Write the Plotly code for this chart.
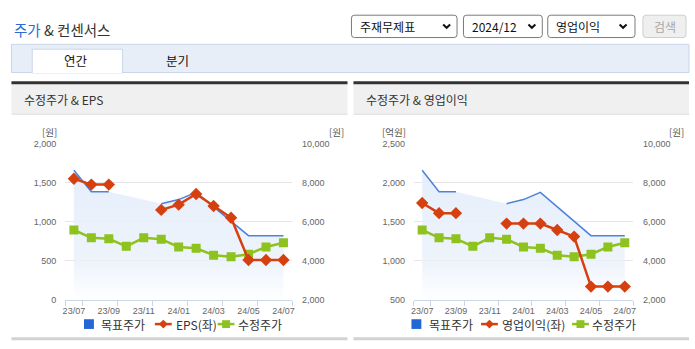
import plotly.graph_objects as go

# ---- data -------------------------------------------------------------
months = ["23/07", "23/08", "23/09", "23/10", "23/11", "23/12",
          "24/01", "24/02", "24/03", "24/04", "24/05", "24/06", "24/07"]
target_price = [8630, 7530, 7530, None, None, 6920, 7130, 7500, 6770, 6030, 5280, 5280, 5280]
adj_price = [5570, 5170, 5120, 4730, 5170, 5100, 4700, 4630, 4280, 4200, 4330, 4700, 4920]
eps = [1550, 1475, 1475, None, None, 1150, 1217, 1354, 1200, 1050, 508, 508, 508]
op_income = [1738, 1608, 1608, None, None, 1475, 1475, 1475, 1392, 1308, 667, 667, 667]

price_ticks = [2000, 4000, 6000, 8000, 10000]
eps_ticks = [0, 500, 1000, 1500, 2000]
op_ticks = [500, 1000, 1500, 2000, 2500]

# ---- page geometry helpers (pixels -> paper) -------------------------
W, H = 695, 349


def fx(p):
    return p / W


def fy(p):
    return 1 - p / H


def rrect(x0, y0, x1, y1, r):
    pts = [
        ("M", x0 + r, y0), ("L", x1 - r, y0), ("Q", x1, y0, x1, y0 + r),
        ("L", x1, y1 - r), ("Q", x1, y1, x1 - r, y1), ("L", x0 + r, y1),
        ("Q", x0, y1, x0, y1 - r), ("L", x0, y0 + r), ("Q", x0, y0, x0 + r, y0),
    ]
    out = []
    for p in pts:
        coords = p[1:]
        s = [f"{fx(coords[i]):.5f},{fy(coords[i + 1]):.5f}" for i in range(0, len(coords), 2)]
        out.append(p[0] + " " + " ".join(s))
    return " ".join(out) + " Z"


KFONT = "Noto Sans CJK KR"
TFONT = "Liberation Sans, Arial, sans-serif"
TICK_COLOR = "#666666"
AXIS_LINE = "#ccd6eb"
GRID = "#e6e6e6"
BLUE_LINE = "#4c82dc"
BLUE_LEG = "#2366d6"
RED = "#d6400e"
GREEN = "#8dc21f"

xi = list(range(len(months)))
boundaries = [-0.5, 0.5, 2.5, 4.5, 6.5, 8.5, 10.5, 12.5]

fig = go.Figure()

panels = [
    dict(xa="x", ya="y", yb="y2", name="EPS(좌)", vals=eps, ticks=eps_ticks,
         x0=62.7, x1=291.7,
         leg=dict(sq=86.7, t1=96.7, red=161.7, t2=172, grn=225, t3=235.5)),
    dict(xa="x2", ya="y3", yb="y4", name="영업이익(좌)", vals=op_income, ticks=op_ticks,
         x0=414.3, x1=635.7,
         leg=dict(sq=417, t1=428, red=490.7, t2=501, grn=582.5, t3=592.5)),
]
PY0, PY1 = 142.7, 303.3

shapes = []
ann = []
layout_axes = {}
for p in panels:
    # target price area with vertical gradient
    fig.add_trace(go.Scatter(
        x=xi, y=target_price, xaxis=p["xa"], yaxis=p["ya"], mode="lines",
        line=dict(color=BLUE_LINE, width=1.5), connectgaps=False,
        fill="tozeroy",
        fillgradient=dict(type="vertical", start=2000, stop=8700,
                          colorscale=[[0, "rgba(238,244,252,0)"],
                                      [0.3, "rgba(234,241,251,0.8)"],
                                      [1, "rgba(229,238,251,1)"]]),
        name="목표주가", showlegend=False, hoverinfo="skip"))
    # adjusted price
    fig.add_trace(go.Scatter(
        x=xi, y=adj_price, xaxis=p["xa"], yaxis=p["ya"], mode="lines+markers",
        line=dict(color=GREEN, width=2.5),
        marker=dict(symbol="square", size=9, color=GREEN),
        name="수정주가", showlegend=False))
    # EPS / operating income on the left scale
    fig.add_trace(go.Scatter(
        x=xi, y=p["vals"], xaxis=p["xa"], yaxis=p["yb"], mode="lines+markers",
        line=dict(color=RED, width=2.5), connectgaps=False,
        marker=dict(symbol="diamond", size=9.5, color=RED),
        name=p["name"], showlegend=False))

    xkey = "xaxis" if p["xa"] == "x" else "xaxis2"
    yakey = "yaxis" if p["ya"] == "y" else "yaxis" + p["ya"][1:]
    ybkey = "yaxis" + p["yb"][1:]
    layout_axes[xkey] = dict(
        domain=[fx(p["x0"]), fx(p["x1"])], range=[-0.5, 12.5], anchor=p["ya"],
        tickmode="array", tickvals=xi[::2], ticktext=months[::2],
        ticks="outside", ticklen=3, tickcolor="rgba(0,0,0,0)",
        showgrid=False, zeroline=False, showline=True, linecolor=AXIS_LINE, linewidth=1,
        tickfont=dict(family=TFONT, size=9, color=TICK_COLOR),
        minor=dict(tickmode="array", tickvals=boundaries, ticks="outside",
                   ticklen=5, tickcolor=AXIS_LINE, showgrid=False),
        fixedrange=True)
    layout_axes[yakey] = dict(
        domain=[fy(PY1), fy(PY0)], range=[2000, 10000], anchor=p["xa"], side="right",
        tickmode="array", tickvals=price_ticks, tickformat=",d",
        ticks="outside", ticklen=7, tickcolor="rgba(0,0,0,0)",
        showgrid=True, gridcolor=GRID, zeroline=False, showline=False,
        tickfont=dict(family=TFONT, size=9, color=TICK_COLOR), fixedrange=True)
    layout_axes[ybkey] = dict(
        overlaying=p["ya"], range=[p["ticks"][0], p["ticks"][-1]], anchor=p["xa"], side="left",
        tickmode="array", tickvals=p["ticks"], tickformat=",d",
        ticks="outside", ticklen=6, tickcolor="rgba(0,0,0,0)",
        showgrid=False, zeroline=False, showline=False,
        tickfont=dict(family=TFONT, size=9, color=TICK_COLOR), fixedrange=True)

    # legend row under each chart
    lg = p["leg"]
    ly = 328.5
    shapes.append(dict(type="rect", xref="paper", yref="paper",
                       x0=fx(lg["sq"] - 5), x1=fx(lg["sq"] + 5), y0=fy(ly + 5), y1=fy(ly - 5),
                       line=dict(width=0), fillcolor=BLUE_LEG))
    shapes.append(dict(type="line", xref="paper", yref="paper",
                       x0=fx(lg["red"] - 8.5), x1=fx(lg["red"] + 8.5), y0=fy(ly), y1=fy(ly),
                       line=dict(color=RED, width=2.5)))
    shapes.append(dict(type="path", xref="paper", yref="paper",
                       path=(f"M {fx(lg['red'])},{fy(ly - 4.5)} L {fx(lg['red'] + 4.5)},{fy(ly)} "
                             f"L {fx(lg['red'])},{fy(ly + 4.5)} L {fx(lg['red'] - 4.5)},{fy(ly)} Z"),
                       line=dict(width=0), fillcolor=RED))
    shapes.append(dict(type="line", xref="paper", yref="paper",
                       x0=fx(lg["grn"] - 8.5), x1=fx(lg["grn"] + 8.5), y0=fy(ly), y1=fy(ly),
                       line=dict(color=GREEN, width=2.5)))
    shapes.append(dict(type="rect", xref="paper", yref="paper",
                       x0=fx(lg["grn"] - 4), x1=fx(lg["grn"] + 4), y0=fy(ly + 4), y1=fy(ly - 4),
                       line=dict(width=0), fillcolor=GREEN))
    for tx, label in [(lg["t1"], "목표주가"), (lg["t2"], p["name"]), (lg["t3"], "수정주가")]:
        ann.append(dict(x=fx(tx), y=fy(ly), xref="paper", yref="paper", xanchor="left", yanchor="middle",
                        text=label, showarrow=False, font=dict(family=KFONT, size=12, color="#333333")))

fig.update_layout(**layout_axes)

# title + controls
ann.append(dict(x=fx(9), y=fy(25), xref="paper", yref="paper", xanchor="left", yanchor="middle",
                text="<span style='color:#2a6bd6'>주가</span> & 컨센서스", showarrow=False,
                font=dict(family=KFONT, size=14.5, color="#333333")))
dropdowns = [(351.5, 458, "주재무제표", 358.5, 447.5),
             (464.5, 544, "2024/12", 471.5, 533.5),
             (549.5, 637.5, "영업이익", 556, 625.5)]
for x0, x1, label, tx, cx in dropdowns:
    shapes.append(dict(type="path", path=rrect(x0, 10.5, x1, 33.5, 3), xref="paper", yref="paper",
                       line=dict(color="#7a7a7a", width=1), fillcolor="white"))
    ann.append(dict(x=fx(tx), y=fy(22), xref="paper", yref="paper", xanchor="left", yanchor="middle",
                    text=label, showarrow=False, font=dict(family=KFONT, size=12, color="#111111")))
    shapes.append(dict(type="path", xref="paper", yref="paper",
                       path=f"M {fx(cx - 3.5)},{fy(20)} L {fx(cx)},{fy(23.5)} L {fx(cx + 3.5)},{fy(20)}",
                       line=dict(color="#111111", width=2)))
shapes.append(dict(type="path", path=rrect(645.5, 10.5, 689, 33.5, 3), xref="paper", yref="paper",
                   line=dict(color="#cfcfcf", width=1), fillcolor="#efefef"))
ann.append(dict(x=fx(667.5), y=fy(22), xref="paper", yref="paper", xanchor="center", yanchor="middle",
                text="검색", showarrow=False, font=dict(family=KFONT, size=12, color="#a8a8a8")))

# tab bar
shapes.append(dict(type="rect", xref="paper", yref="paper", x0=fx(8.5), x1=fx(692), y0=fy(40.5), y1=fy(69.5),
                   line=dict(color="#cad6ea", width=1), fillcolor="#e8eef8"))
shapes.append(dict(type="rect", xref="paper", yref="paper", x0=fx(29.5), x1=fx(120.5), y0=fy(45.5), y1=fy(70),
                   line=dict(color="#cad6ea", width=1), fillcolor="white"))
shapes.append(dict(type="line", xref="paper", yref="paper", x0=fx(30), x1=fx(120), y0=fy(69.5), y1=fy(69.5),
                   line=dict(color="white", width=1.5)))
ann.append(dict(x=fx(74), y=fy(57.5), xref="paper", yref="paper", xanchor="center", yanchor="middle",
                text="연간", showarrow=False, font=dict(family=KFONT, size=12.5, color="#111111")))
ann.append(dict(x=fx(176), y=fy(57.5), xref="paper", yref="paper", xanchor="center", yanchor="middle",
                text="분기", showarrow=False, font=dict(family=KFONT, size=12.5, color="#111111")))

# chart panels: dark top rule, grey heading, bottom rule
for x0, x1, head in [(8.5, 347.5, "수정주가 & EPS"), (353.5, 692, "수정주가 & 영업이익")]:
    shapes.append(dict(type="rect", xref="paper", yref="paper", x0=fx(x0), x1=fx(x1), y0=fy(112.3), y1=fy(81.5),
                       line=dict(width=0), fillcolor="#f0f0f0"))
    shapes.append(dict(type="line", xref="paper", yref="paper", x0=fx(x0), x1=fx(x1), y0=fy(112.5), y1=fy(112.5),
                       line=dict(color="#dddddd", width=1)))
    shapes.append(dict(type="line", xref="paper", yref="paper", x0=fx(x0), x1=fx(x1), y0=fy(80), y1=fy(80),
                       line=dict(color="#333333", width=3)))
    shapes.append(dict(type="line", xref="paper", yref="paper", x0=fx(x0), x1=fx(x1), y0=fy(343.5), y1=fy(343.5),
                       line=dict(color="#d2d2d2", width=3)))
    ann.append(dict(x=fx(x0 + 11), y=fy(97), xref="paper", yref="paper", xanchor="left", yanchor="middle",
                    text=head, showarrow=False, font=dict(family=KFONT, size=12, color="#333333")))

# unit labels
for xpos, txt in [(46.5, "[원]"), (336, "[원]"), (394, "[억원]"), (679, "[원]")]:
    ann.append(dict(x=fx(xpos), y=fy(130.8), xref="paper", yref="paper", xanchor="center", yanchor="middle",
                    text=txt, showarrow=False, font=dict(family=KFONT, size=9.5, color="#555555")))

fig.update_layout(
    width=W, height=H, margin=dict(l=0, r=0, t=0, b=0),
    paper_bgcolor="white", plot_bgcolor="rgba(0,0,0,0)",
    shapes=shapes, annotations=ann, showlegend=False, hovermode=False,
)

fig.write_html(
    "out.html",
    config={"displayModeBar": False},
    post_script="document.body.style.margin='0';document.body.style.overflow='hidden';",
)
